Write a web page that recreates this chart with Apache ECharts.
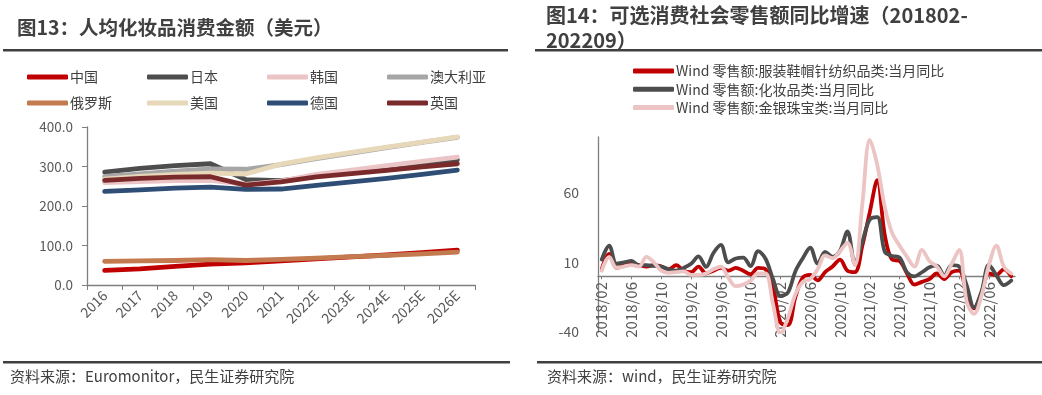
<!DOCTYPE html>
<html><head><meta charset="utf-8">
<script src="https://cdn.jsdelivr.net/npm/echarts@6/dist/echarts.min.js"></script>
<style>html,body{margin:0;padding:0;background:#fff}#c{width:1042px;height:395px}</style>
</head><body><div id="c"></div>
<script>
// ---------- Left chart data (人均化妆品消费金额, 美元) ----------
const yearCats = ['2016','2017','2018','2019','2020','2021','2022E','2023E','2024E','2025E','2026E'];
const china     = [37, 41, 47, 53, 56, 61, 66, 71, 76, 82, 88];
const japan     = [286, 295, 302, 307, 267, 264, 275, 285, 296, 306, 317];
const korea     = [259, 262, 264, 265, 255, 263, 280, 291, 302, 313, 324];
const australia = [275, 281, 288, 294, 293, 305, 320, 334, 348, 361, 374];
const russia    = [60, 61, 62, 64, 62, 65, 68, 72, 75, 79, 83];
const usa       = [268, 275, 280, 283, 281, 306, 322, 336, 349, 362, 375];
const germany   = [237, 241, 245, 248, 242, 243, 252, 261, 270, 280, 291];
const uk        = [265, 270, 273, 274, 253, 261, 274, 282, 290, 299, 307];
const leftYTicks = [0, 100, 200, 300, 400];

// ---------- Right chart data (当月同比, %) ----------
const monthCats = [
 '2018/02','2018/03','2018/04','2018/05','2018/06','2018/07','2018/08','2018/09','2018/10','2018/11','2018/12',
 '2019/01','2019/02','2019/03','2019/04','2019/05','2019/06','2019/07','2019/08','2019/09','2019/10','2019/11','2019/12',
 '2020/01','2020/02','2020/03','2020/04','2020/05','2020/06','2020/07','2020/08','2020/09','2020/10','2020/11','2020/12',
 '2021/01','2021/02','2021/03','2021/04','2021/05','2021/06','2021/07','2021/08','2021/09','2021/10','2021/11','2021/12',
 '2022/01','2022/02','2022/03','2022/04','2022/05','2022/06','2022/07','2022/08','2022/09'];
const clothing = [5,16,6,8,9,8,7,8,7,5,8,
 4,3,7,2,4,6,4,6,4,1.5,6,5,
 -8,-33,-35,-15,-1,1,-3,3,7,12,4,3,
 22,46,69,30,12,11,2,-6,-4,-2,2,-2,
 3,4,-12,-23,-12,2,1,5,0];
const cosmetics = [12,22,9,10,11,8,8,7.5,7,5,4,
 6,9,14.3,6.7,16.7,22.5,10,12.8,13.4,7.3,18,12.6,
 -2,-14,-11.6,3.5,12.9,20.5,9.2,17.5,13.9,18.3,32.3,9.4,
 25,40.7,42.5,17.8,14.6,13.4,2.8,-0.1,2.9,6.5,7.6,0.5,
 8,7,-6.3,-22.3,-11,8.1,0.7,-6.4,-3.1];
const jewelry = [4,14,6,7,8,7,14,10,4,2.5,3,
 3.5,1,1,2,5,7,-1,-7,-6,-3,2,2,
 -20,-41,-30,-13,-4,-2,5,15,13,18,24,8,
 52,98,80,50,31,22,14,7,19,11,7,0,
 9,19,-18,-27,-14,8,22,7,2];

const TXT = '#404040', AX = '#595959', AXL = '#7F7F7F';
const FONT = '"Noto Sans CJK SC","Noto Sans",sans-serif';

const leftSeries = [
  ['中国', china, '#C00000'],
  ['日本', japan, '#4D4D4D'],
  ['韩国', korea, '#EBC4C6'],
  ['澳大利亚', australia, '#A6A6A6'],
  ['俄罗斯', russia, '#C27A4E'],
  ['美国', usa, '#E7D8BA'],
  ['德国', germany, '#2E4E76'],
  ['英国', uk, '#7B2A2C']
];
const rightSeries = [
  ['Wind 零售额:服装鞋帽针纺织品类:当月同比', clothing, '#C00000'],
  ['Wind 零售额:化妆品类:当月同比', cosmetics, '#4D4D4D'],
  ['Wind 零售额:金银珠宝类:当月同比', jewelry, '#EDC4C4']
];

const legendCommon = {
  orient: 'vertical', icon: 'roundRect', itemWidth: 41, itemHeight: 5,
  textStyle: {color: TXT, fontSize: 14, fontFamily: FONT, lineHeight: 16, padding: [0,0,0,-3]},
  padding: 0
};
const legends = [];
const cols = [[0,4],[1,5],[2,6],[3,7]];
const colX = [27, 147, 267, 387];
cols.forEach((c, k) => {
  legends.push(Object.assign({}, legendCommon, {
    left: colX[k], top: 69, itemGap: 10,
    data: c.map(i => leftSeries[i][0])
  }));
});
legends.push(Object.assign({}, legendCommon, {
  left: 633, top: 63, itemGap: 2.3,
  data: rightSeries.map(s => s[0])
}));

const series = [];
leftSeries.forEach(s => series.push({
  name: s[0], type: 'line', data: s[1], xAxisIndex: 0, yAxisIndex: 0,
  showSymbol: false, symbol: 'none', smooth: false,
  lineStyle: {color: s[2], width: 4.8, cap: 'round', join: 'round'},
  itemStyle: {color: s[2]}
}));
rightSeries.forEach(s => series.push({
  name: s[0], type: 'line', data: s[1], xAxisIndex: 1, yAxisIndex: 1,
  showSymbol: false, symbol: 'none', smooth: 0.35,
  lineStyle: {color: s[2], width: 3.8, cap: 'round', join: 'round'},
  itemStyle: {color: s[2]}
}));

const option = {
  animation: false,
  textStyle: {fontFamily: FONT},
  title: [
    {text: '图13：人均化妆品消费金额（美元）', left: 12, top: 13,
     textStyle: {color: TXT, fontSize: 19.5, fontWeight: 'bold', fontFamily: FONT}},
    {text: '图14：可选消费社会零售额同比增速（201802-\n202209）', left: 546, top: 3, padding: 0,
     textStyle: {color: TXT, fontSize: 20, fontWeight: 'bold', fontFamily: FONT, lineHeight: 25}}
  ],
  legend: legends,
  grid: [
    {left: 87, top: 127, width: 388, height: 158},
    {left: 598, top: 137, width: 417, height: 195},
    // label carrier grid: its bottom edge sits on the zero line of the right chart
    {left: 598, top: 137, width: 417, height: 140}
  ],
  xAxis: [
    {type: 'category', gridIndex: 0, data: yearCats, boundaryGap: true,
     axisLine: {lineStyle: {color: AXL, width: 1.3}},
     axisTick: {show: true, length: 5, lineStyle: {color: AXL}},
     axisLabel: {rotate: 45, color: AX, fontSize: 14, margin: 8, fontFamily: FONT}},
    {type: 'category', gridIndex: 1, data: monthCats, boundaryGap: true,
     axisLine: {onZero: true, lineStyle: {color: AXL, width: 1.3}},
     axisTick: {show: true, interval: 3, length: 3, alignWithLabel: true, lineStyle: {color: AXL}},
     axisLabel: {show: false}},
    {type: 'category', gridIndex: 2, data: monthCats, boundaryGap: true,
     axisLine: {show: false}, axisTick: {show: false}, splitLine: {show: false},
     axisLabel: {rotate: 90, interval: 3, color: AX, fontSize: 15, margin: 5, fontFamily: FONT}}
  ],
  yAxis: [
    {type: 'value', gridIndex: 0, min: leftYTicks[0], max: leftYTicks[leftYTicks.length-1], interval: 100,
     splitLine: {show: false},
     axisLine: {show: true, lineStyle: {color: AXL, width: 1.3}},
     axisTick: {show: true, length: 5, lineStyle: {color: AXL}},
     axisLabel: {color: AX, fontSize: 13.5, margin: 14, fontFamily: FONT,
                 formatter: v => v.toFixed(1)}},
    {type: 'value', gridIndex: 1, min: -40, max: 100, interval: 50,
     splitLine: {show: false},
     axisLine: {show: true, lineStyle: {color: AXL, width: 1.3}},
     axisTick: {show: false},
     axisLabel: {color: AX, fontSize: 14, margin: 19, showMaxLabel: false, fontFamily: FONT}},
    {type: 'value', gridIndex: 2, min: 0, max: 1, show: false}
  ],
  graphic: [
    {type: 'rect', shape: {x: 3, y: 49, width: 505, height: 2.5}, style: {fill: '#404040'}},
    {type: 'rect', shape: {x: 535, y: 49, width: 507, height: 2.5}, style: {fill: '#404040'}},
    {type: 'rect', shape: {x: 3, y: 361, width: 507, height: 2.5}, style: {fill: '#404040'}},
    {type: 'rect', shape: {x: 537, y: 361, width: 505, height: 2.5}, style: {fill: '#404040'}},
    {type: 'text', left: 10, top: 369, style: {text: '资料来源：Euromonitor，民生证券研究院', fill: TXT, fontSize: 15, fontFamily: FONT}},
    {type: 'text', left: 547, top: 369, style: {text: '资料来源：wind，民生证券研究院', fill: TXT, fontSize: 15, fontFamily: FONT}}
  ],
  series: series
};
const chart = echarts.init(document.getElementById('c'), null, {renderer: 'canvas'});
chart.setOption(option);
</script></body></html>
